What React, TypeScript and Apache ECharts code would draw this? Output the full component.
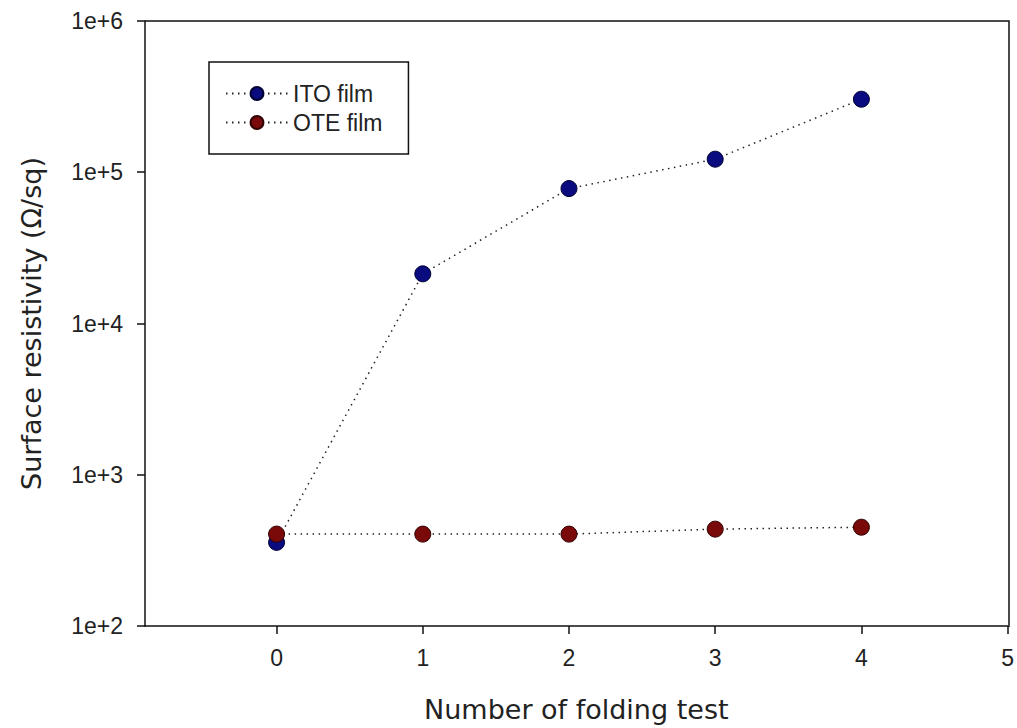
import React, { useEffect, useRef } from "react";
import * as echarts from "echarts";

const foldCounts = [0, 1, 2, 3, 4];
const itoValues = [357, 21300, 78000, 122000, 304000];
const oteValues = [405, 405, 405, 437, 450];
const xTickValues = [0, 1, 2, 3, 4, 5];
const yTickLabels: Record<number, string> = {
  100: "1e+2",
  1000: "1e+3",
  10000: "1e+4",
  100000: "1e+5",
  1000000: "1e+6",
};

export default function App() {
  const ref = useRef<HTMLDivElement>(null);
  useEffect(() => {
    if (!ref.current) return;
    const chart = echarts.init(ref.current, undefined, { renderer: "svg" });
    const dotted = { color: "#222", width: 1.5, type: [1.5, 4.5] as any };
    chart.setOption({
      animation: false,
      backgroundColor: "#ffffff",
      grid: { left: 145, right: 8, top: 21, bottom: 101, show: false },
      legend: {
        orient: "vertical",
        left: 209,
        top: 62,
        borderColor: "#111",
        borderWidth: 1.5,
        padding: [20, 26, 20, 16],
        itemWidth: 62,
        itemHeight: 16,
        itemGap: 6,
        textStyle: { fontFamily: "Liberation Sans, Arial", fontSize: 23, color: "#222" },
        data: ["ITO film", "OTE film"],
      },
      xAxis: {
        type: "value",
        min: -0.9,
        max: 5,
        name: "Number of folding test",
        nameLocation: "middle",
        nameGap: 70,
        nameTextStyle: { fontFamily: "DejaVu Sans", fontSize: 27, color: "#222" },
        axisLine: { show: true, onZero: false, lineStyle: { color: "#111", width: 1.5 } },
        axisTick: { show: true, inside: false, length: 8, customValues: xTickValues, lineStyle: { color: "#111", width: 1.5 } },
        axisLabel: {
          customValues: xTickValues,
          margin: 20,
          fontFamily: "Liberation Sans, Arial",
          fontSize: 23,
          color: "#222",
          formatter: (v: number) => String(v),
        },
        splitLine: { show: false },
      },
      yAxis: {
        type: "log",
        logBase: 10,
        min: 100,
        max: 1000000,
        name: "Surface resistivity (Ω/sq)",
        nameLocation: "middle",
        nameGap: 100,
        nameTextStyle: { fontFamily: "DejaVu Sans", fontSize: 27, color: "#222" },
        axisLine: { show: true, onZero: false, lineStyle: { color: "#111", width: 1.5 } },
        axisTick: { show: true, inside: false, length: 8, lineStyle: { color: "#111", width: 1.5 } },
        minorTick: { show: false },
        axisLabel: {
          margin: 22,
          fontFamily: "Liberation Sans, Arial",
          fontSize: 23,
          color: "#222",
          formatter: (v: number) => yTickLabels[Math.round(v)] ?? "",
        },
        splitLine: { show: false },
      },
      graphic: [
        {
          type: "polyline",
          shape: { points: [[145, 21], [1009, 21], [1009, 627]] },
          style: { stroke: "#111", lineWidth: 1.5, fill: "none" },
          z: 10,
        },
      ],
      series: [
        {
          name: "ITO film",
          type: "line",
          data: foldCounts.map((x, i) => [x, itoValues[i]]),
          symbol: "circle",
          symbolSize: 16,
          itemStyle: { color: "#0b0b80", borderColor: "#000030", borderWidth: 1 },
          lineStyle: dotted,
          z: 2,
        },
        {
          name: "OTE film",
          type: "line",
          data: foldCounts.map((x, i) => [x, oteValues[i]]),
          symbol: "circle",
          symbolSize: 16,
          itemStyle: { color: "#7a0a0a", borderColor: "#300000", borderWidth: 1 },
          lineStyle: dotted,
          z: 3,
        },
      ],
    });
    return () => chart.dispose();
  }, []);
  return <div ref={ref} style={{ width: 1017, height: 728, position: "absolute", left: 0, top: 0 }} />;
}
